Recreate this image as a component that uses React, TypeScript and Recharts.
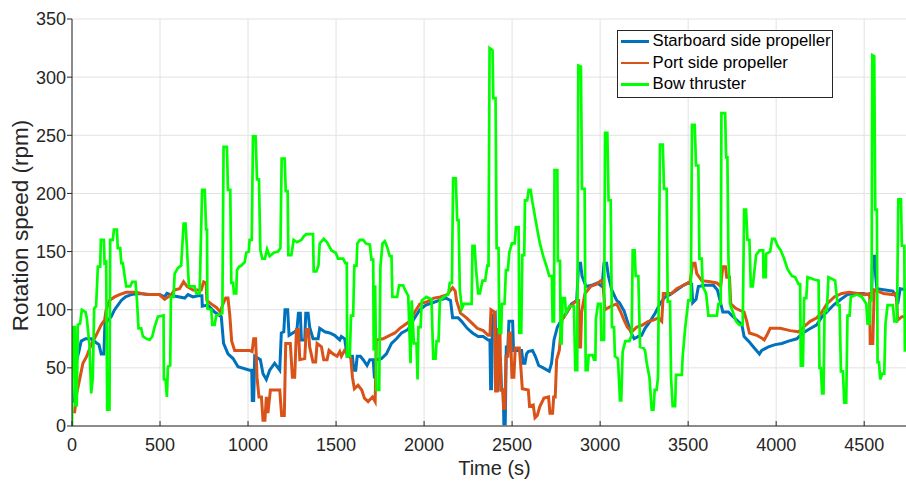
import { LineChart, Line, XAxis, YAxis, CartesianGrid, Legend } from 'recharts';

// [time (s), rotation speed (rpm)] samples per propeller
const starboardSide: [number, number][] = [
  [10, 20], [14, 22], [27, 57], [39, 64], [52, 73], [77, 75], [109, 75], [134, 72], [153, 70], [166, 62],
  [181, 62], [187, 88], [204, 91], [223, 94], [242, 100], [261, 104], [280, 108], [304, 111], [336, 113], [384, 114],
  [441, 113], [497, 113], [526, 111], [539, 114], [573, 112], [611, 111], [640, 110], [659, 113], [687, 111], [715, 112],
  [738, 112], [740, 103], [772, 104], [810, 98], [848, 94], [861, 71], [886, 62], [915, 58], [943, 51], [1009, 48],
  [1021, 48], [1024, 22], [1032, 22], [1038, 60], [1070, 57], [1085, 45], [1104, 40], [1123, 48], [1151, 54], [1180, 48],
  [1189, 80], [1203, 81], [1210, 100], [1225, 100], [1233, 78], [1265, 81], [1278, 83], [1286, 97], [1297, 97], [1303, 74],
  [1322, 74], [1328, 97], [1341, 97], [1350, 85], [1369, 75], [1398, 75], [1407, 84], [1436, 81], [1464, 80], [1492, 78],
  [1521, 74], [1530, 77], [1549, 75], [1563, 60], [1593, 60], [1601, 48], [1612, 48], [1620, 60], [1638, 60], [1654, 57],
  [1676, 52], [1692, 57], [1711, 57], [1718, 41], [1726, 57], [1758, 58], [1786, 62], [1815, 71], [1843, 75], [1872, 80],
  [1909, 83], [1938, 91], [1976, 100], [2010, 104], [2048, 106], [2086, 108], [2124, 110], [2150, 108], [2162, 93], [2194, 93],
  [2213, 90], [2245, 84], [2275, 80], [2307, 77], [2336, 77], [2364, 74], [2374, 74], [2378, 32], [2383, 32], [2389, 95],
  [2404, 97], [2412, 31], [2419, 31], [2425, 57], [2434, 57], [2440, 31], [2450, 31], [2453, 2], [2461, 2], [2467, 68],
  [2476, 68], [2482, 90], [2503, 90], [2508, 65], [2554, 65], [2563, 54], [2573, 54], [2582, 62], [2592, 64], [2616, 65],
  [2632, 60], [2651, 52], [2677, 50], [2711, 47], [2724, 54], [2738, 74], [2757, 85], [2776, 90], [2795, 94], [2813, 98],
  [2838, 105], [2867, 108], [2878, 140], [2889, 140], [2897, 129], [2920, 120], [2952, 121], [2984, 123], [3011, 120], [3022, 140],
  [3037, 140], [3047, 129], [3066, 117], [3094, 108], [3110, 106], [3128, 101], [3136, 99], [3155, 90], [3174, 81], [3193, 75],
  [3217, 77], [3236, 78], [3255, 84], [3284, 90], [3312, 97], [3340, 105], [3369, 111], [3397, 113], [3435, 117], [3473, 121],
  [3501, 123], [3520, 122], [3526, 106], [3545, 109], [3558, 120], [3596, 121], [3644, 121], [3666, 117], [3681, 108], [3697, 98],
  [3729, 98], [3748, 95], [3776, 91], [3805, 87], [3818, 77], [3843, 73], [3871, 68], [3905, 62], [3918, 65], [3956, 68],
  [3994, 70], [4032, 71], [4070, 73], [4117, 75], [4152, 80], [4184, 83], [4231, 87], [4260, 94], [4288, 98], [4326, 104],
  [4368, 109], [4405, 113], [4449, 114], [4496, 114], [4525, 113], [4542, 111], [4548, 146], [4561, 146], [4565, 129], [4572, 118],
  [4620, 117], [4663, 116], [4682, 111], [4690, 105], [4705, 118], [4745, 117],
];

const portSide: [number, number][] = [
  [14, 11], [27, 28], [46, 42], [62, 54], [84, 60], [109, 70], [137, 78], [166, 87], [185, 91], [194, 100],
  [213, 108], [242, 111], [270, 113], [308, 115], [365, 115], [422, 113], [497, 113], [526, 109], [545, 111], [564, 113],
  [583, 117], [611, 118], [634, 124], [653, 120], [687, 117], [734, 117], [748, 124], [762, 123], [766, 108], [791, 105],
  [820, 102], [842, 98], [858, 105], [873, 110], [886, 110], [896, 96], [907, 73], [924, 65], [971, 65], [1009, 65],
  [1023, 64], [1032, 75], [1043, 75], [1051, 42], [1062, 25], [1076, 25], [1085, 5], [1096, 5], [1104, 25], [1113, 11],
  [1127, 31], [1180, 31], [1191, 9], [1206, 9], [1214, 71], [1240, 71], [1252, 42], [1265, 42], [1275, 83], [1286, 83],
  [1294, 57], [1322, 58], [1331, 83], [1343, 83], [1350, 68], [1369, 55], [1384, 55], [1392, 71], [1417, 68], [1430, 57],
  [1449, 57], [1460, 65], [1483, 62], [1506, 60], [1521, 64], [1530, 60], [1548, 65], [1568, 62], [1584, 58], [1593, 42],
  [1604, 32], [1625, 35], [1646, 31], [1661, 24], [1682, 21], [1707, 25], [1722, 21], [1729, 74], [1767, 75], [1805, 78],
  [1834, 80], [1862, 84], [1891, 87], [1919, 90], [1947, 98], [1976, 105], [2018, 107], [2055, 110], [2093, 111], [2131, 113],
  [2162, 119], [2177, 116], [2184, 108], [2207, 97], [2241, 93], [2275, 88], [2302, 84], [2336, 82], [2364, 78], [2374, 78],
  [2380, 100], [2400, 98], [2406, 30], [2416, 30], [2421, 83], [2431, 83], [2436, 31], [2446, 31], [2452, 15], [2459, 15],
  [2465, 60], [2476, 60], [2482, 80], [2491, 80], [2499, 42], [2510, 42], [2518, 67], [2541, 67], [2548, 54], [2558, 32],
  [2592, 31], [2599, 17], [2620, 18], [2630, 7], [2643, 9], [2658, 17], [2681, 24], [2707, 25], [2715, 11], [2730, 11],
  [2736, 25], [2745, 25], [2753, 57], [2768, 65], [2783, 91], [2806, 97], [2832, 103], [2867, 108], [2878, 108], [2882, 68],
  [2889, 68], [2895, 98], [2914, 114], [2946, 120], [2980, 122], [3003, 125], [3014, 125], [3028, 100], [3060, 103], [3094, 105],
  [3117, 98], [3136, 91], [3155, 85], [3179, 81], [3208, 85], [3242, 87], [3274, 90], [3303, 91], [3331, 93], [3350, 90],
  [3359, 114], [3407, 114], [3435, 118], [3473, 121], [3511, 124], [3526, 140], [3539, 140], [3549, 131], [3577, 125], [3625, 124],
  [3663, 123], [3685, 120], [3697, 137], [3712, 137], [3719, 128], [3735, 128], [3742, 105], [3772, 101], [3818, 98], [3833, 90],
  [3848, 80], [3890, 78], [3924, 75], [3932, 74], [3947, 78], [3966, 84], [4023, 84], [4080, 82], [4127, 81], [4155, 85],
  [4193, 90], [4231, 93], [4260, 98], [4288, 105], [4330, 111], [4373, 114], [4417, 115], [4462, 114], [4506, 113], [4531, 114],
  [4534, 71], [4549, 71], [4557, 117], [4610, 114], [4663, 113], [4682, 114], [4690, 91], [4714, 94], [4745, 94],
];

const bowThruster: [number, number][] = [
  [0, 0], [5, 85], [16, 85], [20, 18], [27, 18], [33, 87], [46, 88], [56, 100], [77, 98], [84, 93],
  [99, 70], [109, 28], [118, 41], [126, 101], [137, 103], [147, 137], [160, 137], [164, 160], [181, 160], [185, 140],
  [194, 141], [200, 14], [213, 14], [217, 160], [232, 160], [238, 169], [255, 169], [260, 153], [274, 153], [280, 140],
  [289, 140], [297, 131], [308, 120], [331, 120], [342, 124], [361, 124], [369, 108], [378, 84], [393, 84], [403, 77],
  [425, 75], [441, 74], [456, 77], [469, 85], [488, 94], [520, 95], [522, 40], [532, 40], [539, 25], [545, 51],
  [558, 52], [562, 111], [577, 111], [583, 131], [602, 136], [620, 138], [634, 174], [645, 174], [653, 153], [664, 120],
  [696, 120], [706, 114], [725, 114], [739, 203], [754, 203], [762, 169], [767, 169], [769, 101], [791, 100], [797, 87],
  [810, 87], [820, 95], [854, 97], [861, 240], [880, 240], [886, 203], [899, 203], [905, 123], [915, 123], [920, 114],
  [933, 114], [937, 134], [949, 137], [962, 138], [981, 141], [990, 149], [1004, 150], [1009, 160], [1021, 160], [1028, 249],
  [1043, 249], [1051, 212], [1062, 212], [1070, 151], [1081, 144], [1096, 144], [1108, 152], [1123, 146], [1146, 149], [1170, 150],
  [1184, 153], [1191, 230], [1208, 230], [1214, 202], [1225, 202], [1229, 147], [1246, 147], [1259, 160], [1278, 158], [1303, 160],
  [1316, 163], [1331, 165], [1369, 165], [1373, 133], [1388, 133], [1400, 138], [1407, 157], [1430, 161], [1449, 158], [1474, 151],
  [1498, 149], [1511, 144], [1540, 144], [1553, 140], [1561, 140], [1563, 60], [1578, 60], [1585, 95], [1597, 95], [1604, 138],
  [1616, 138], [1621, 157], [1635, 160], [1654, 160], [1669, 157], [1692, 156], [1701, 143], [1711, 143], [1714, 65], [1722, 121],
  [1729, 31], [1745, 31], [1752, 137], [1764, 157], [1777, 159], [1790, 154], [1805, 146], [1815, 146], [1820, 111], [1847, 111],
  [1858, 121], [1881, 121], [1892, 117], [1910, 112], [1923, 54], [1930, 108], [1942, 71], [1957, 71], [1963, 40], [1968, 85],
  [1980, 85], [1987, 108], [2014, 111], [2042, 109], [2052, 58], [2065, 58], [2071, 73], [2082, 73], [2090, 108], [2112, 111],
  [2137, 113], [2146, 123], [2158, 123], [2165, 213], [2180, 213], [2188, 177], [2196, 177], [2203, 117], [2215, 101], [2226, 105],
  [2270, 105], [2275, 155], [2287, 155], [2294, 137], [2307, 114], [2317, 114], [2332, 125], [2347, 125], [2359, 138], [2366, 138],
  [2372, 325], [2389, 323], [2393, 282], [2406, 282], [2412, 153], [2423, 153], [2427, 80], [2438, 80], [2442, 105], [2457, 105],
  [2465, 134], [2476, 134], [2484, 149], [2499, 157], [2514, 157], [2522, 171], [2537, 171], [2541, 80], [2552, 80], [2558, 147],
  [2569, 147], [2573, 194], [2586, 194], [2594, 203], [2605, 203], [2615, 193], [2630, 180], [2643, 169], [2658, 157], [2677, 146],
  [2696, 137], [2711, 129], [2726, 129], [2730, 90], [2738, 90], [2741, 220], [2757, 220], [2760, 142], [2772, 142], [2776, 71],
  [2781, 71], [2787, 110], [2800, 110], [2806, 97], [2825, 103], [2851, 103], [2859, 48], [2870, 48], [2876, 310], [2891, 309],
  [2897, 204], [2912, 204], [2918, 48], [2929, 48], [2935, 61], [2958, 61], [2965, 57], [2973, 57], [2976, 92], [2988, 105],
  [3003, 105], [3007, 74], [3022, 74], [3028, 252], [3041, 252], [3048, 194], [3060, 194], [3067, 85], [3079, 85], [3084, 60],
  [3101, 58], [3113, 22], [3120, 22], [3128, 64], [3143, 73], [3166, 73], [3179, 78], [3185, 151], [3196, 151], [3202, 129],
  [3217, 129], [3227, 68], [3246, 67], [3255, 65], [3265, 54], [3280, 42], [3293, 14], [3303, 14], [3310, 31], [3321, 31],
  [3329, 42], [3340, 242], [3356, 242], [3363, 204], [3378, 204], [3384, 107], [3397, 107], [3403, 41], [3412, 17], [3426, 17],
  [3431, 44], [3464, 44], [3469, 60], [3483, 84], [3501, 108], [3515, 108], [3522, 259], [3537, 259], [3545, 224], [3558, 224],
  [3564, 144], [3577, 144], [3583, 120], [3602, 114], [3615, 95], [3663, 95], [3672, 105], [3685, 105], [3689, 269], [3710, 269],
  [3716, 231], [3723, 231], [3729, 144], [3738, 105], [3754, 98], [3772, 90], [3791, 87], [3810, 87], [3818, 186], [3829, 186],
  [3837, 160], [3848, 160], [3856, 120], [3867, 120], [3875, 131], [3886, 147], [3905, 151], [3926, 151], [3928, 128], [3941, 128],
  [3943, 148], [3966, 150], [3977, 161], [3992, 161], [4008, 155], [4026, 151], [4045, 144], [4064, 135], [4089, 129], [4108, 128],
  [4127, 122], [4136, 122], [4140, 52], [4152, 52], [4159, 110], [4171, 110], [4178, 128], [4216, 126], [4241, 125], [4246, 50],
  [4254, 50], [4261, 28], [4269, 28], [4275, 99], [4288, 99], [4297, 128], [4335, 125], [4349, 104], [4360, 104], [4368, 47],
  [4379, 47], [4387, 20], [4398, 20], [4405, 95], [4417, 95], [4424, 111], [4459, 113], [4487, 111], [4512, 105], [4519, 88],
  [4531, 88], [4534, 108], [4542, 108], [4546, 319], [4557, 318], [4563, 186], [4572, 186], [4576, 55], [4584, 55], [4591, 40],
  [4603, 45], [4614, 45], [4621, 88], [4633, 104], [4663, 104], [4671, 90], [4686, 90], [4694, 195], [4709, 195], [4714, 155],
  [4728, 155], [4731, 65], [4745, 65],
];

const TIME_TICKS = [0, 500, 1000, 1500, 2000, 2500, 3000, 3500, 4000, 4500];
const RPM_TICKS = [0, 50, 100, 150, 200, 250, 300, 350];

const FONT = '"Liberation Sans", Arial, Helvetica, sans-serif';
const INK = '#262626';

const toRows = (pts: [number, number][]) => pts.map(([t, rpm]) => ({ t, rpm }));

const SERIES = [
  { name: 'Starboard side propeller', color: '#0072BD', width: 3, data: toRows(starboardSide) },
  { name: 'Port side propeller', color: '#D95319', width: 3, data: toRows(portSide) },
  { name: 'Bow thruster', color: '#00FF00', width: 2.7, data: toRows(bowThruster) },
];

function LegendBox() {
  return (
    <div
      style={{
        width: 216,
        height: 68,
        boxSizing: 'border-box',
        border: `1px solid ${INK}`,
        background: '#fff',
        fontFamily: FONT,
        fontSize: 16.7,
        color: '#000',
      }}
    >
      {SERIES.map(s => (
        <div key={s.name} style={{ display: 'flex', alignItems: 'center', height: 21.3 }}>
          <span style={{ display: 'inline-block', width: 28, height: 2.7, marginLeft: 2.5, marginRight: 4, background: s.color }} />
          <span style={{ whiteSpace: 'nowrap', lineHeight: 1 }}>{s.name}</span>
        </div>
      ))}
    </div>
  );
}

const yTitle = ({ viewBox }: any) => {
  const cy = viewBox.y + viewBox.height / 2 + 3;
  return (
    <text
      x={20}
      y={cy}
      transform={`rotate(-90, 20, ${cy})`}
      textAnchor="middle"
      dominantBaseline="central"
      fontSize={22.5}
      fontFamily={FONT}
      fill={INK}
    >
      Rotation speed (rpm)
    </text>
  );
};

const xTitle = ({ viewBox }: any) => (
  <text x={viewBox.x + viewBox.width / 2} y={475} textAnchor="middle" fontSize={20} fontFamily={FONT} fill={INK}>
    Time (s)
  </text>
);

export default function App() {
  return (
    <div style={{ position: 'fixed', left: 0, top: 0, width: 906, height: 481, overflow: 'hidden', background: '#fff' }}>
      <LineChart width={917} height={481} margin={{ top: 19, right: 0, bottom: 0, left: 0 }}>
        <CartesianGrid stroke="#e2e2e2" strokeWidth={1} />
        <XAxis
          type="number"
          dataKey="t"
          domain={[0, 4800]}
          ticks={TIME_TICKS}
          allowDataOverflow
          height={55}
          tickSize={-5}
          tickMargin={17}
          tick={{ fill: INK, fontSize: 18, fontFamily: FONT }}
          axisLine={{ stroke: INK }}
          tickLine={{ stroke: INK }}
          label={xTitle}
        />
        <XAxis
          xAxisId="top"
          orientation="top"
          type="number"
          domain={[0, 4800]}
          ticks={TIME_TICKS}
          allowDataOverflow
          height={0}
          tickSize={-5}
          tickFormatter={() => ''}
          axisLine={{ stroke: INK }}
          tickLine={{ stroke: INK }}
        />
        <YAxis
          type="number"
          domain={[0, 350]}
          ticks={RPM_TICKS}
          allowDataOverflow
          width={72}
          tickSize={5}
          tickMargin={1}
          tick={{ fill: INK, fontSize: 18, fontFamily: FONT }}
          axisLine={{ stroke: INK }}
          tickLine={{ stroke: INK }}
          label={yTitle}
        />
        {SERIES.map(s => (
          <Line
            key={s.name}
            data={s.data}
            dataKey="rpm"
            name={s.name}
            type="linear"
            stroke={s.color}
            strokeWidth={s.width}
            dot={false}
            activeDot={false}
            isAnimationActive={false}
          />
        ))}
        <Legend
          layout="vertical"
          align="center"
          verticalAlign="middle"
          content={<LegendBox />}
          wrapperStyle={{ left: 617, top: 30, width: 216, height: 68 }}
        />
      </LineChart>
    </div>
  );
}
